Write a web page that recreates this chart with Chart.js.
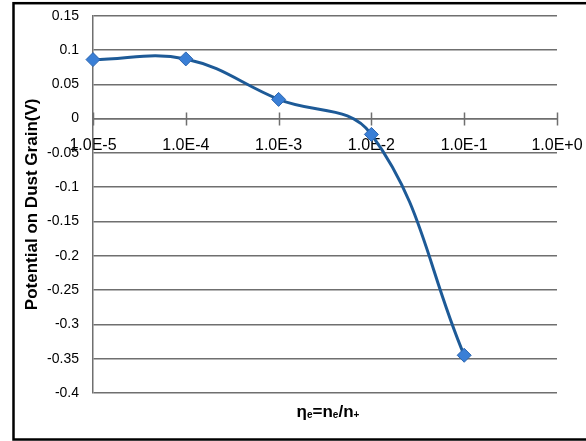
<!DOCTYPE html>
<html>
<head>
<meta charset="utf-8">
<script src="https://cdn.jsdelivr.net/npm/chart.js@4.4.1/dist/chart.umd.min.js"></script>
<style>
  html, body { margin: 0; padding: 0; background: #fff; }
  #wrap { width: 586px; height: 441px; }
</style>
</head>
<body>
<div id="wrap"><canvas id="c" width="586" height="441"></canvas></div>
<script>
// Electron density ratio (x) and grain potential in volts (y)
const etaValues = [1e-5, 1e-4, 1e-3, 1e-2, 1e-1];
const potentialValues = [0.086, 0.087, 0.028, -0.023, -0.345];

// Axis ticks
const xTickValues = [1e-5, 1e-4, 1e-3, 1e-2, 1e-1, 1];
const xTickLabels = ['1.0E-5', '1.0E-4', '1.0E-3', '1.0E-2', '1.0E-1', '1.0E+0'];
const yMin = -0.4;
const yMax = 0.15;
const yStep = 0.05;

// Axis titles (x title is written piecewise: plain text and subscripts)
const yAxisTitle = 'Potential on Dust Grain(V)';
const xAxisTitleParts = [
  { text: 'η', sub: false },
  { text: 'e', sub: true },
  { text: '=n', sub: false },
  { text: 'e', sub: true },
  { text: '/n', sub: false },
  { text: '+', sub: true }
];

const GRID = '#6f6f6f';

// White background and the heavy frame around the whole figure
const framePlugin = {
  id: 'frame',
  beforeDraw(chart) {
    const ctx = chart.ctx;
    ctx.save();
    ctx.fillStyle = '#fff';
    ctx.fillRect(0, 0, chart.width, chart.height);
    ctx.restore();
  },
  afterDraw(chart) {
    const ctx = chart.ctx;
    ctx.save();
    ctx.strokeStyle = '#000';
    ctx.lineWidth = 2.5;
    ctx.strokeRect(13.5, 3.2, 640, 436.3);
    ctx.restore();
  }
};

// Tick marks crossing the zero line, and the subscripted x title
const axisExtrasPlugin = {
  id: 'axisExtras',
  beforeDatasetsDraw(chart) {
    const ctx = chart.ctx;
    const xs = chart.scales.x;
    const y0 = chart.scales.y.getPixelForValue(0);
    ctx.save();
    ctx.strokeStyle = GRID;
    ctx.lineWidth = 1.5;
    ctx.beginPath();
    xTickValues.forEach(v => {
      const px = Math.round(xs.getPixelForValue(v)) + 0.5;
      ctx.moveTo(px, y0 - 6);
      ctx.lineTo(px, y0 + 7);
    });
    ctx.stroke();
    ctx.restore();
  },
  afterDraw(chart) {
    const ctx = chart.ctx;
    const area = chart.chartArea;
    const mainFont = 'bold 17px "Liberation Sans Narrow", "Liberation Sans", sans-serif';
    const subFont = 'bold 10px "Liberation Sans Narrow", "Liberation Sans", sans-serif';
    ctx.save();
    ctx.fillStyle = '#000';
    ctx.textBaseline = 'alphabetic';
    ctx.textAlign = 'left';
    let total = 0;
    xAxisTitleParts.forEach(p => {
      ctx.font = p.sub ? subFont : mainFont;
      total += ctx.measureText(p.text).width;
    });
    let x = (area.left + area.right) / 2 + 3 - total / 2;
    const base = 417;
    xAxisTitleParts.forEach(p => {
      ctx.font = p.sub ? subFont : mainFont;
      ctx.fillText(p.text, x, p.sub ? base + 1 : base);
      x += ctx.measureText(p.text).width;
    });
    ctx.restore();
  }
};

new Chart(document.getElementById('c'), {
  type: 'line',
  data: {
    datasets: [{
      data: etaValues.map((x, i) => ({ x: x, y: potentialValues[i] })),
      borderColor: '#1d5a97',
      borderWidth: 3,
      tension: 0.4,
      pointStyle: 'rectRot',
      pointRadius: 7,
      pointBackgroundColor: '#3a7fd6',
      pointBorderColor: '#2c66b0',
      pointBorderWidth: 1,
      fill: false,
      clip: false
    }]
  },
  options: {
    responsive: false,
    devicePixelRatio: 1,
    animation: false,
    layout: { padding: { left: 0, top: 15.7, right: 29, bottom: 48 } },
    plugins: { legend: { display: false }, tooltip: { enabled: false } },
    scales: {
      x: {
        type: 'logarithmic',
        position: { y: 0 },
        min: 1e-5,
        max: 1,
        afterBuildTicks(scale) {
          scale.ticks = xTickValues.map(v => ({ value: v }));
        },
        afterFit(scale) {
          scale.paddingLeft = 0;
          scale.paddingRight = 0;
        },
        grid: { display: true, drawOnChartArea: false, drawTicks: false },
        border: { display: true, color: GRID, width: 1.5 },
        ticks: {
          autoSkip: false,
          maxRotation: 0,
          padding: 17,
          color: '#000',
          font: { family: '"Liberation Sans Narrow", "Liberation Sans", sans-serif', size: 16 },
          callback: (v, i) => xTickLabels[i]
        }
      },
      y: {
        type: 'linear',
        min: yMin,
        max: yMax,
        afterFit(scale) {
          scale.width = 93;
          scale.paddingTop = 0;
          scale.paddingBottom = 0;
        },
        grid: { color: GRID, lineWidth: 1.5, drawTicks: false },
        border: { display: true, color: GRID, width: 1.5 },
        ticks: {
          stepSize: yStep,
          padding: 14,
          color: '#000',
          font: { family: '"Liberation Sans", sans-serif', size: 14 },
          callback: v => String(Math.round(v * 100) / 100)
        },
        title: {
          display: true,
          text: yAxisTitle,
          color: '#000',
          font: { family: '"Liberation Sans", sans-serif', size: 17, weight: 'bold' },
          padding: { top: 22, bottom: 0 }
        }
      }
    }
  },
  plugins: [framePlugin, axisExtrasPlugin]
});
</script>
</body>
</html>
